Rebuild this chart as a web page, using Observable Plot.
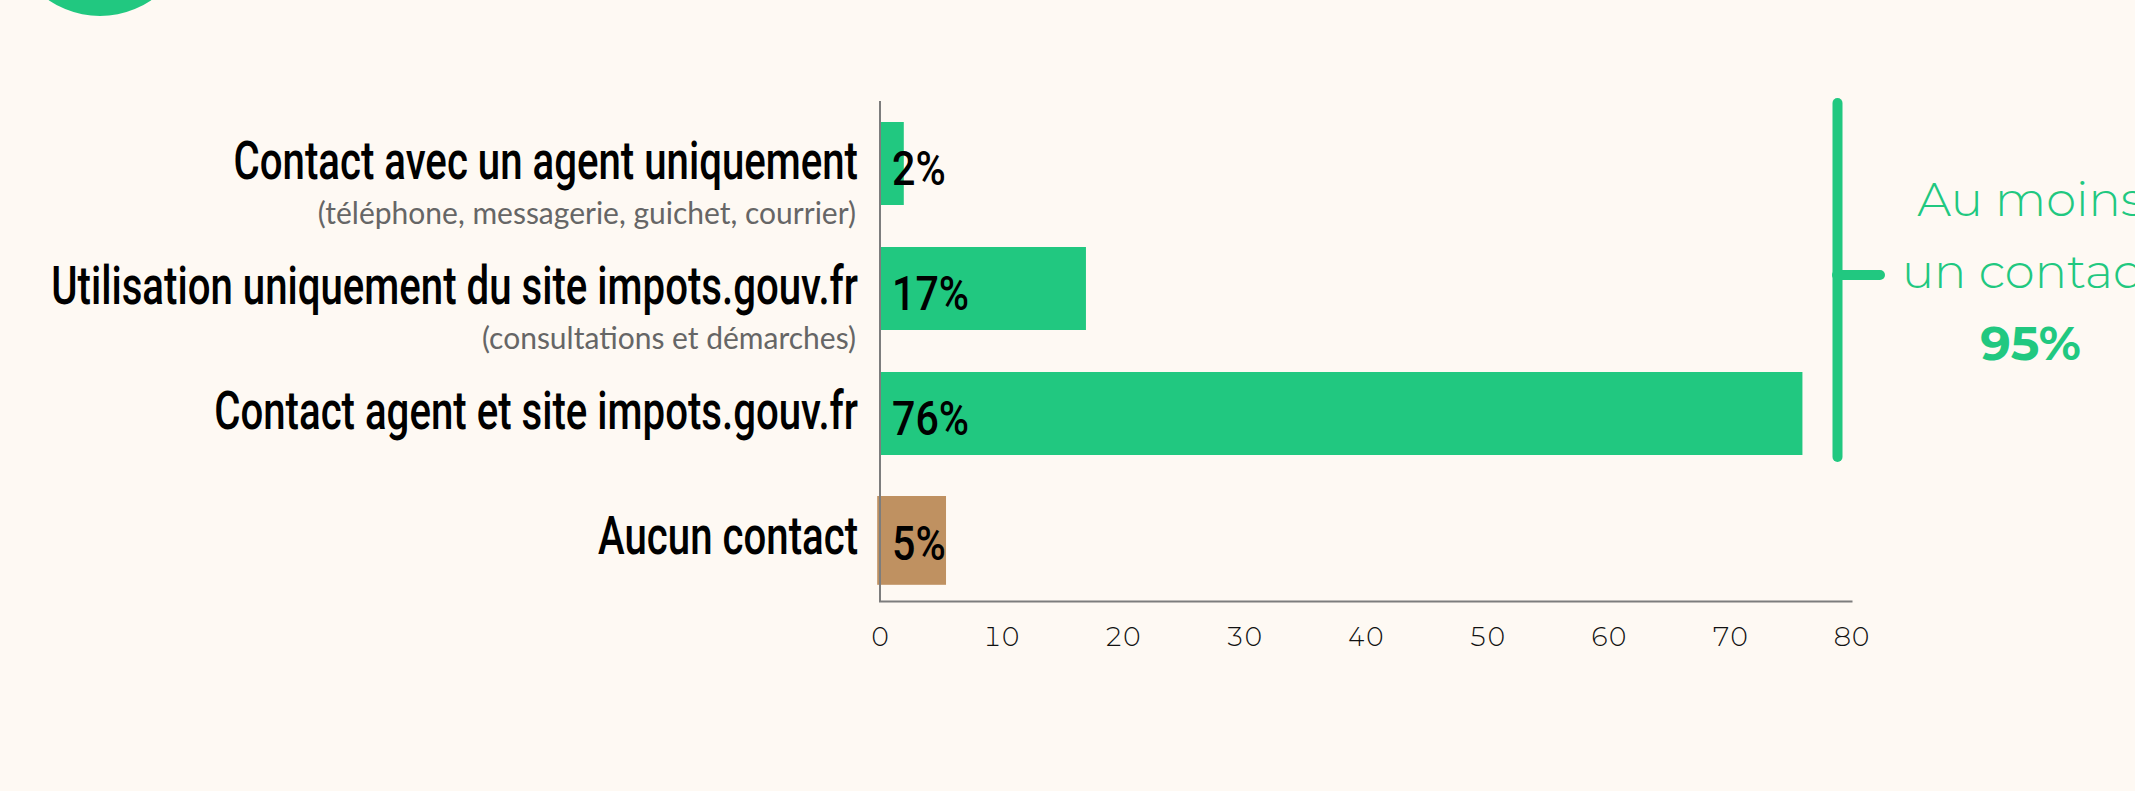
<!DOCTYPE html>
<html><head><meta charset="utf-8">
<script src="https://cdn.jsdelivr.net/npm/d3@7"></script>
<script src="https://cdn.jsdelivr.net/npm/@observablehq/plot@0.6"></script>
<style>
html,body{margin:0;padding:0;background:#fef9f3;overflow:hidden;}
#wrap{position:relative;width:2135px;height:791px;overflow:hidden;}
#blob{position:absolute;left:9px;top:-166px;width:182px;height:182px;border-radius:50%;background:#21c880;}
#chart{position:absolute;left:0;top:0;}
</style></head><body>
<div id="wrap"><div id="blob"></div><div id="chart"></div></div>
<script>
const categories = [
  "Contact avec un agent uniquement",
  "Utilisation uniquement du site impots.gouv.fr",
  "Contact agent et site impots.gouv.fr",
  "Aucun contact"
];
const subtitles = [
  "(téléphone, messagerie, guichet, courrier)",
  "(consultations et démarches)",
  "",
  ""
];
const values = [2, 17, 76, 5];
const groups = ["contact", "contact", "contact", "aucun"];
const xTicks = [0, 10, 20, 30, 40, 50, 60, 70, 80];
const annotationLines = ["Au moins", "un contact"];
const annotationValue = "95%";

const green = "#21c880";
const brownColor = "#bf9161";
const condensed = "Roboto";
const condensedLabel = "Roboto, sans-serif";
const labelFactor = 0.758;
const valueFactor = 0.84;
const wide = "Montserrat, 'DejaVu Sans', sans-serif";

const data = categories.map((c, i) => ({label: c, sub: subtitles[i], value: values[i], group: groups[i]}));
const withContact = data.filter(d => d.group === "contact");
const noContact = data.filter(d => d.group === "aucun");

const chart = Plot.plot({
  width: 2135,
  height: 791,
  marginLeft: 879.5,
  marginRight: 284,
  marginTop: 101,
  marginBottom: 190,
  style: {background: "transparent", overflow: "visible"},
  x: {domain: [0, 80]},
  y: {domain: categories, paddingInner: 0.338, paddingOuter: 0.169, axis: null},
  marks: [
    Plot.barX(withContact, {x: "value", y: "label", fill: green}),
    Plot.barX(noContact, {x: "value", y: "label", fill: brownColor, insetLeft: -2.3, insetRight: -5.8, insetTop: -1, insetBottom: -4.8}),
    Plot.ruleX([0], {stroke: "#7d7d7d", strokeWidth: 2}),
    Plot.frame({anchor: "bottom", stroke: "#7d7d7d", strokeWidth: 2}),
    Plot.axisX({ticks: xTicks, tickSize: 0, tickPadding: 26.5, fontSize: 26, fontFamily: wide, fontWeight: 300, fill: "#111", label: null}),
    Plot.text(data, {y: "label", text: "label", frameAnchor: "left", textAnchor: "end", dx: -22, dy: -2, fontSize: 53, fontWeight: 500, fontFamily: condensedLabel, fill: "#000"}),
    Plot.text(data.filter(d => d.sub), {y: "label", text: "sub", frameAnchor: "left", textAnchor: "end", dx: -24, dy: 50, fontSize: 30, fontFamily: "Lato, sans-serif", fill: "#666"}),
    Plot.text(data, {x: 0, y: "label", text: d => d.value + "%", textAnchor: "start", dx: 12, dy: 5, fontSize: 49, fontWeight: 500, fontFamily: condensed, fill: "#000"}),
    Plot.ruleX([{x: 80, y1: categories[0], y2: categories[2]}], {x: "x", y1: "y1", y2: "y2", dx: -14, insetTop: -19, insetBottom: -1.9, stroke: green, strokeWidth: 10, strokeLinecap: "round"}),
    Plot.ruleY([categories[1]], {x1: 80, x2: 80, dx: -14, dy: -14, insetRight: -43, stroke: green, strokeWidth: 10, strokeLinecap: "round"}),
    Plot.text([{t: annotationLines.join("\n"), y: categories[1]}], {x: 80, y: "y", text: "t", dx: 179, dy: -1, textAnchor: "middle", lineAnchor: "bottom", lineHeight: 72 / 48, fontSize: 48, fontFamily: wide, fontWeight: 300, fill: green}),
    Plot.text([{t: annotationValue, y: categories[1]}], {x: 80, y: "y", text: "t", dx: 179, dy: 71, textAnchor: "middle", lineAnchor: "bottom", fontSize: 48, fontFamily: wide, fontWeight: "bold", fill: green})
  ]
});
document.getElementById("chart").appendChild(chart);
// emulate a condensed typeface by compressing glyphs horizontally
function condense(family, factor) {
  d3.select(chart).selectAll(`g[font-family="${family}"] text`).each(function() {
    const w = this.getComputedTextLength();
    this.setAttribute("textLength", w * factor);
    this.setAttribute("lengthAdjust", "spacingAndGlyphs");
  });
}
condense(condensedLabel, labelFactor);
condense(condensed, valueFactor);
</script>
</body></html>
